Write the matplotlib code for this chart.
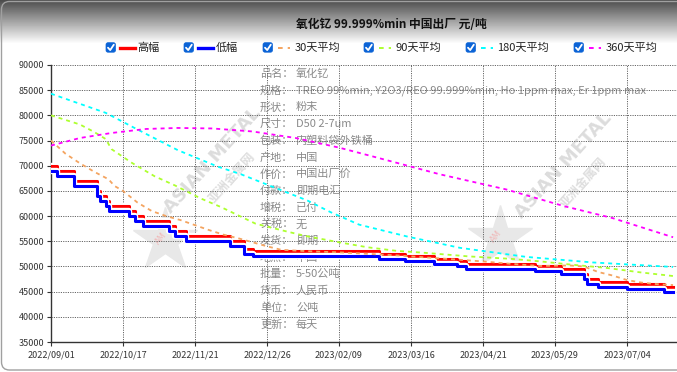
import numpy as np
import matplotlib
matplotlib.use("Agg")
import matplotlib.pyplot as plt
import matplotlib.patheffects as pe
from matplotlib.patches import FancyBboxPatch

plt.rcParams['font.family'] = ['Noto Sans CJK SC', 'DejaVu Sans']

W, H = 677, 372

# === 数据 ===
title = "氧化钇 99.999%min 中国出厂 元/吨"
tick_labels = ["2022/09/01", "2022/10/17", "2022/11/21", "2022/12/26", "2023/02/09",
               "2023/03/16", "2023/04/21", "2023/05/29", "2023/07/04"]
tick_step = 25
n_points = 217

# 高幅 / 低幅: 每次调价的起始序号与价格
step_idx = [0, 2, 8, 16, 17, 19, 20, 27, 29, 32, 41, 43, 47, 62, 67, 70,
            114, 123, 133, 141, 144, 168, 177, 185, 186, 190, 200, 213]
high_val = [70000, 69000, 67000, 65000, 64000, 63000, 62000, 61000, 60000, 59000,
            58000, 57000, 56000, 55000, 53500, 53000, 52500, 52000, 51500, 51000,
            50500, 50000, 49500, 48500, 47500, 47000, 46500, 46000]
low_val = [69000, 68000, 66000, 64000, 63000, 62000, 61000, 60000, 59000, 58000,
           57000, 56000, 55000, 54000, 52500, 52000, 51500, 51000, 50500, 50000,
           49500, 49000, 48500, 47500, 46500, 46000, 45500, 45000]

# 均线 (从图上读取的点)
ma30_idx = [0, 5, 10, 15, 20, 22, 25, 30, 35, 40, 45, 50, 55, 60, 65, 70, 75, 80,
            90, 100, 110, 120, 130, 140, 150, 160, 170, 180, 185, 190, 195, 200, 205, 210, 216]
ma30_val = [75000, 72400, 70500, 68800, 67300, 66000, 65000, 62700, 61000, 60000,
            59200, 58200, 57200, 56300, 55600, 54800, 54000, 53300, 53000, 52800,
            52500, 52200, 51800, 51400, 51000, 50500, 50100, 50200, 50000, 48900,
            48200, 47300, 46800, 46500, 46300]

ma90_idx = [0, 10, 15, 19, 21, 28, 36, 43, 52, 59, 63, 71, 80, 88, 100, 110, 120,
            130, 145, 160, 170, 180, 193, 205, 216]
ma90_val = [80000, 78200, 76700, 75300, 73300, 70600, 67900, 66100, 63500, 61800,
            60700, 58500, 57200, 56100, 54800, 53800, 53100, 52700, 52000, 51500,
            51000, 50400, 49700, 48800, 48100]

ma180_idx = [0, 12, 19, 30, 44, 58, 66, 77, 89, 97, 107, 124, 142, 165, 188, 216]
ma180_val = [84300, 81900, 80500, 77200, 73100, 69800, 68300, 65800, 63100, 60800,
             58300, 55900, 53700, 51900, 50800, 49900]

ma360_idx = [0, 10, 21, 33, 44, 56, 70, 85, 100, 112, 135, 158, 178, 195, 216]
ma360_val = [74000, 75500, 76500, 77300, 77500, 77400, 76800, 75500, 73600, 71800,
             68300, 65300, 62000, 59600, 55800]

info_keys = ["品名：", "规格：", "形状：", "尺寸：", "包装：", "产地：", "作价：", "付款：",
             "增税：", "关税：", "发货：", "地点：", "批量：", "货币：", "单位：", "更新："]
info_vals = ["氧化钇", "TREO 99%min, Y2O3/REO 99.999%min, Ho 1ppm max, Er 1ppm max",
             "粉末", "D50 2-7um", "内塑料袋外铁桶", "中国", "中国出厂价", "即期电汇",
             "已付", "无", "即期", "中国", "5-50公吨", "人民币", "公吨", "每天"]

legend_names = ["高幅", "低幅", "30天平均", "90天平均", "180天平均", "360天平均"]
colors = ["#ff0000", "#0000ff", "#f4a460", "#adff2f", "#00ffff", "#ff00ff"]


def expand_steps(idx, vals, n):
    counts = np.diff(list(idx) + [n])
    return np.repeat(vals, counts)


# === 绘图 ===
fig = plt.figure(figsize=(W / 100, H / 100), dpi=100)

# 背景层 (像素坐标)
bg = fig.add_axes([0, 0, 1, 1], zorder=0)
bg.set_xlim(0, W)
bg.set_ylim(H, 0)
bg.axis("off")
grad = np.ones((H, 2))
top = np.arange(44)
grad[:44, :] = (0.30 + 0.70 * (top / 43.0))[:, None]
bg.imshow(grad, cmap="gray", vmin=0, vmax=1, extent=[0, W, H, 0], aspect="auto", zorder=0)
bg.add_patch(FancyBboxPatch((1.5, 1.5), W + 20, H - 3.5,
                            boxstyle="round,pad=0,rounding_size=8",
                            fc="none", ec="#a0a0a0", lw=1.0, zorder=1))

# 水印
for (tx, ty, cx, cy, sx, sy) in [(212, 160, 232, 178, 165, 240), (563, 165, 583, 183, 500, 238)]:
    bg.text(tx, ty, "ASIAN METAL", rotation=48, fontsize=13, fontweight="bold",
            color="#dcdcdc", ha="center", va="center", family=["DejaVu Sans"], zorder=2)
    bg.text(cx, cy, "亚洲金属网", rotation=48, fontsize=9, fontweight="bold",
            color="#dedede", ha="center", va="center", zorder=2)
    bg.plot(sx, sy, marker="*", markersize=48, color="#e8e8e8", mec="#e8e8e8", zorder=2)
    bg.text(sx - 4, sy - 2, "AM", rotation=50, fontsize=6, color="#f0b8b8",
            ha="center", va="center", family=["DejaVu Sans"], zorder=3)

# 产品信息
for k, (key, val) in enumerate(zip(info_keys, info_vals)):
    y = 74 + k * 16.7
    bg.text(260, y, key, fontsize=8, color="#8a8a8a", va="center", zorder=3)
    bg.text(296, y, val, fontsize=8, color="#8a8a8a", va="center", zorder=3)

# 标题
bg.text(391, 25, title, fontsize=8.5, fontweight="bold", color="#111111",
        ha="center", va="center", zorder=3)

# 图例
leg_x = [106, 184, 263, 364, 466, 574]
leg_y = 47.5
for k, (lx, name, c) in enumerate(zip(leg_x, legend_names, colors)):
    bg.add_patch(FancyBboxPatch((lx, leg_y - 4.8), 9.5, 9.5, boxstyle="round,pad=0,rounding_size=2",
                                fc="#0b63d6", ec="#0b63d6", lw=0.5, zorder=3))
    bg.plot([lx + 2.0, lx + 4.2, lx + 7.8], [leg_y + 0.2, leg_y + 2.6, leg_y - 2.8],
            color="white", lw=1.3, zorder=4, solid_capstyle="round")
    if k < 2:
        bg.plot([lx + 13.5, lx + 29], [leg_y, leg_y], color=c, lw=2.4, zorder=3)
    else:
        bg.plot([lx + 15, lx + 27], [leg_y, leg_y], color=c, lw=1.4,
                dashes=(2.4, 2.6), zorder=3)
    bg.text(lx + 31.5, leg_y, name, fontsize=8, color="#222222", va="center", zorder=3)

# 主图
left, right, top_px, bottom_px = 51, W, 65, 342
ax = fig.add_axes([left / W, 1 - bottom_px / H, (right - left) / W, (bottom_px - top_px) / H], zorder=1)
ax.patch.set_alpha(0)

x = np.arange(n_points)
high = expand_steps(step_idx, high_val, n_points)
low = expand_steps(step_idx, low_val, n_points)
halo = [pe.Stroke(linewidth=4.6, foreground="white"), pe.Normal()]
ax.plot(x, high, drawstyle="steps-post", color=colors[0], lw=2.2, path_effects=halo, zorder=3)
ax.plot(x, low, drawstyle="steps-post", color=colors[1], lw=2.2, path_effects=halo, zorder=3)

for idx, vals, c in [(ma30_idx, ma30_val, colors[2]), (ma90_idx, ma90_val, colors[3]),
                     (ma180_idx, ma180_val, colors[4]), (ma360_idx, ma360_val, colors[5])]:
    ax.plot(idx, vals, color=c, lw=1.3, dashes=(2.2, 2.2), zorder=4)

ax.set_xlim(0, (right - left) / 2.88)
ax.set_ylim(35000, 90000)
ax.set_yticks(np.arange(35000, 90001, 5000))
ax.set_xticks(np.arange(len(tick_labels)) * tick_step)
ax.set_xticklabels(tick_labels)
ax.tick_params(axis="both", labelsize=6.5, colors="#333333", length=3, width=0.8, pad=2)
ax.tick_params(axis="x", pad=3)
ax.grid(True, linestyle=(0, (1.2, 1.2)), color="#666666", lw=0.7, zorder=1)
for s in ["top", "right"]:
    ax.spines[s].set_visible(False)
for s in ["left", "bottom"]:
    ax.spines[s].set_color("#333333")
    ax.spines[s].set_linewidth(1.0)

plt.savefig("out.png", dpi=100)
